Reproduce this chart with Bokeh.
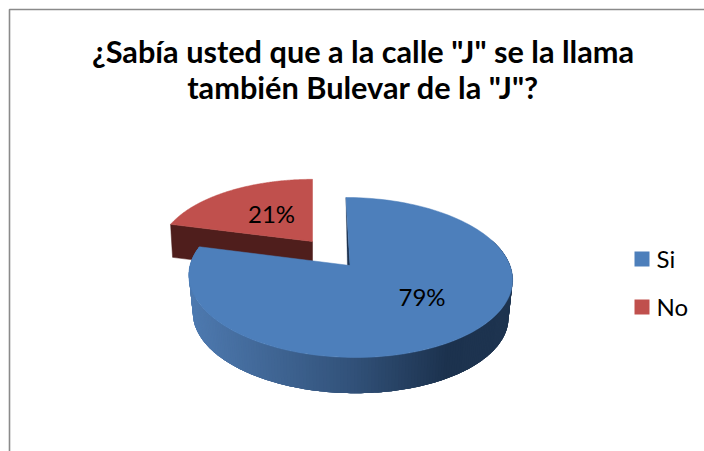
import math
from bokeh.plotting import figure
from bokeh.models import Range1d
from bokeh.core.properties import value
from bokeh.embed import file_html
from bokeh.resources import INLINE

# ---- data
categories = ["Si", "No"]
percents = [79, 21]
title_lines = ['¿Sabía usted que a la calle "J" se la llama', 'también Bulevar de la "J"?']

# ---- styles
BLUE, RED, RED_WALL, SLIVER = "#4d7fbb", "#c0504d", "#4f1e1c", "#1d3350"
FONT = value("Lato")
W, H = 704, 451
FRAME = "#8a8a8a"

p = figure(width=W, height=H, output_backend="svg", toolbar_location=None,
           x_range=Range1d(0, W), y_range=Range1d(H, 0),
           min_border=0, outline_line_color=None)
p.axis.visible = False
p.grid.visible = False


def project(theta, a, b, k, shear):
    """Tilted-disc projection of the clockwise angle theta (0 = top)."""
    u, v = math.sin(theta), math.cos(theta)
    d = 1 + k * v
    X, Y = a * u / d, b * v / d
    return X - shear * Y, Y


def arc(start, end, cx, cy, a, b, k, shear, scale=1.0, dy=0.0, n=160):
    xs, ys = [], []
    for i in range(n + 1):
        th = start + (end - start) * i / n
        X, Y = project(th, a, b, k, shear)
        xs.append(cx + scale * X)
        ys.append(cy + dy - scale * Y)
    return xs, ys


total = sum(percents)
blue_end = 2 * math.pi * percents[0] / total
two_pi = 2 * math.pi

# blue slice geometry
B = dict(cx=349.5, cy=265, a=160, b=78.2, k=0.15, shear=0.06)
# red slice geometry (pulled out and further back)
R = dict(cx=312, cy=241, a=152, b=71.5, k=0.15, shear=0.0)

# frame: top and left only, it runs off the right and bottom of the picture
p.line([W, 9, 9], [9, 9, H], line_color=FRAME, line_width=1.6)

# --- red slice: cut wall, then top
rx, ry = arc(blue_end, two_pi, **R)
wall_depth = 33
p.patch([R["cx"], rx[0], rx[0] + 2, R["cx"]],
        [R["cy"], ry[0], ry[0] + wall_depth, R["cy"] + wall_depth],
        fill_color=RED_WALL, line_color=RED_WALL, line_width=0.5)
p.patch([R["cx"]] + rx, [R["cy"]] + ry, fill_color=RED, line_color=RED, line_width=0.5)

# --- blue slice: curved side as shaded strips
stops = [(0.0, (78, 122, 176)), (0.5, (50, 82, 122)), (0.8, (28, 50, 78)), (1.0, (30, 52, 80))]


def shade(t):
    t = max(0.0, min(1.0, t))
    for (t0, c0), (t1, c1) in zip(stops, stops[1:]):
        if t <= t1:
            f = (t - t0) / (t1 - t0)
            return "#%02x%02x%02x" % tuple(round(c0[i] + (c1[i] - c0[i]) * f) for i in range(3))
    return "#%02x%02x%02x" % stops[-1][1]


N = 200
tx, ty = arc(math.radians(70), blue_end, **B, n=N)
bx, by = arc(math.radians(70), blue_end, **B, scale=0.975, dy=38, n=N)
side_xs, side_ys, side_cols = [], [], []
for i in range(N):
    j = min(i + 4, N)
    side_xs.append(tx[i:j + 1] + bx[i:j + 1][::-1])
    side_ys.append(ty[i:j + 1] + by[i:j + 1][::-1])
    side_cols.append(shade(((tx[i] + tx[i + 1]) / 2 - 188) / 324))
p.patches(side_xs, side_ys, fill_color=side_cols, line_color=None)

# --- blue slice: top
tx2, ty2 = arc(0.0, blue_end, **B)
p.patch([tx2[0], B["cx"] - 2.6, B["cx"]], [ty2[0], B["cy"] + 0.3, B["cy"]],
        fill_color=SLIVER, line_color=SLIVER, line_width=0.3)
p.patch([B["cx"]] + tx2, [B["cy"]] + ty2, fill_color=BLUE, line_color=BLUE, line_width=0.5)

# --- percentage labels
label_pos = {"Si": (421.5, 296), "No": (271, 212.5)}
for c, v in zip(categories, percents):
    p.text([label_pos[c][0]], [label_pos[c][1]], text=[f"{v}%"], text_font=FONT,
           text_font_size="24px", text_color="#000000", text_align="center", text_baseline="middle")

# --- title
for i, line in enumerate(title_lines):
    p.text([362.5], [50.5 + 36 * i], text=[line], text_font=FONT, text_font_style="bold",
           text_font_size="30.7px", text_color="#000000", text_align="center", text_baseline="middle")

# --- legend
for i, (c, col) in enumerate(zip(categories, [BLUE, RED])):
    top = 251 + 48 * i
    p.quad(left=[634], right=[649], top=[top], bottom=[top + 15], fill_color=col, line_color=None)
    p.text([656], [top + 6.5], text=[c], text_font=FONT, text_font_size="24px",
           text_color="#000000", text_align="left", text_baseline="middle")

open("out.html", "w").write(file_html(p, INLINE))
